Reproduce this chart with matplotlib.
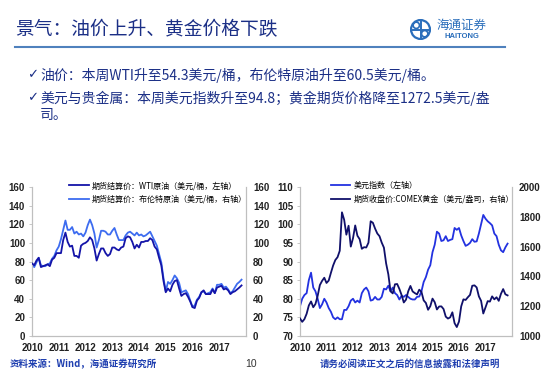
import numpy as np
import pandas as pd
import matplotlib
matplotlib.use("Agg")
import matplotlib.pyplot as plt
from matplotlib.patches import Circle

plt.rcParams['font.family'] = ['Noto Sans CJK SC', 'DejaVu Sans']

# monthly values, Jan 2010 .. Nov 2017
wti = [78, 76, 81, 84, 74, 75, 76, 77, 75, 82, 84, 89,
       89, 89, 103, 111, 101, 96, 97, 86, 86, 84, 97, 99,
       100, 102, 106, 103, 94, 81, 88, 94, 94, 89, 86, 88,
       95, 95, 93, 92, 95, 96, 105, 107, 106, 101, 94, 98,
       95, 101, 101, 102, 102, 105, 103, 96, 93, 84, 76, 59,
       47, 51, 48, 55, 59, 60, 51, 43, 45, 46, 42, 37,
       31, 30, 38, 41, 47, 49, 45, 45, 45, 50, 46, 52,
       53, 54, 50, 51, 49, 45, 47, 48, 50, 52, 54.3]
brent = [77, 74, 79, 84, 76, 75, 75, 77, 78, 83, 86, 92,
         96, 104, 114, 124, 114, 114, 117, 110, 112, 109, 110, 107,
         111, 119, 125, 119, 110, 95, 103, 113, 113, 112, 109, 109,
         113, 116, 109, 103, 103, 103, 108, 111, 112, 110, 108, 111,
         108, 109, 107, 108, 110, 112, 107, 102, 97, 88, 79, 62,
         48, 58, 56, 60, 65, 62, 57, 47, 48, 49, 45, 38,
         31, 33, 39, 42, 47, 48, 45, 46, 47, 51, 46, 55,
         55, 56, 52, 53, 50, 46, 48, 52, 56, 58, 60.5]
usd_index = [78, 80, 81, 81.5, 85, 87, 83, 82, 80, 77.5, 78.5, 80,
             79, 77.5, 76.5, 75, 74.5, 75, 74.5, 74.5, 77, 77, 78, 79.5,
             80, 79, 79.5, 79, 81.5, 82.5, 83, 82, 79.5, 79.7, 80.5, 79.8,
             79.8, 80.5, 82.7, 82.5, 83.5, 82, 83, 81.5, 81, 79.8, 80.8, 80.5,
             81, 80.5, 80, 79.8, 79.8, 80.5, 80.6, 82, 84.5, 85.8, 87.8, 89,
             92.5, 94.5, 98, 97.5, 95.5, 95.7, 96.8, 95.5, 95.8, 96, 99, 98.5,
             99, 97, 95.5, 94.2, 94.5, 95, 96, 95.3, 95.4, 97.5, 100, 102.5,
             101.5, 100.8, 100.3, 99.7, 97.5, 96.8, 94.5, 93, 92.5, 93.8, 94.8]
gold = [1118, 1095, 1113, 1149, 1205, 1232, 1193, 1215, 1270, 1342, 1370, 1391,
        1356, 1372, 1424, 1473, 1510, 1529, 1572, 1830, 1780, 1680, 1740, 1600,
        1656, 1742, 1673, 1650, 1585, 1596, 1594, 1626, 1770, 1760, 1721, 1688,
        1670, 1627, 1593, 1487, 1414, 1300, 1286, 1347, 1349, 1316, 1275, 1225,
        1244, 1300, 1336, 1299, 1288, 1279, 1311, 1296, 1239, 1222, 1176, 1200,
        1251, 1227, 1178, 1198, 1199, 1181, 1130, 1117, 1125, 1159, 1086, 1060,
        1097, 1199, 1246, 1242, 1260, 1276, 1337, 1340, 1326, 1266, 1236, 1151,
        1192, 1234, 1231, 1266, 1246, 1260, 1236, 1283, 1315, 1280, 1272.5]

years = [2010, 2011, 2012, 2013, 2014, 2015, 2016, 2017]
dates = pd.date_range("2010-01-01", periods=len(wti), freq="MS")
t = dates.year + (dates.month - 1) / 12.0

title_color = "#1b2f86"
text_color = "#1b2f86"
spine_color = "#bfbfbf"
tick_font = "Liberation Sans"

fig = plt.figure(figsize=(5.5, 3.79), dpi=100)
fig.patch.set_facecolor("white")

# header
fig.text(15 / 550, 1 - 30 / 379, "景气：油价上升、黄金价格下跌", fontsize=13.5,
         color=title_color, va="center", ha="left")
fig.add_artist(plt.Line2D([15 / 550, 505 / 550], [1 - 47 / 379, 1 - 47 / 379],
                          color="#4f81bd", lw=1.5))
# logo
logo_ax = fig.add_axes([410 / 550, 1 - 40 / 379, 21 / 550, 21 / 379])
logo_ax.set_xlim(-1, 1)
logo_ax.set_ylim(-1, 1)
logo_ax.axis("off")
logo_ax.add_patch(Circle((0, 0), 0.9, fill=False, ec="#2a6ebb", lw=1.6))
logo_ax.plot([-0.9, 0.9], [0, 0], color="#2a6ebb", lw=1.4)
logo_ax.plot([0, 0], [-0.9, 0.9], color="#2a6ebb", lw=1.4)
logo_ax.add_patch(Circle((-0.4, 0.4), 0.3, fill=False, ec="#2a6ebb", lw=1.2))
logo_ax.add_patch(Circle((0.4, -0.4), 0.3, fill=False, ec="#2a6ebb", lw=1.2))
fig.text(462 / 550, 1 - 25 / 379, "海通证券", fontsize=9, color="#2a6ebb",
         ha="center", va="center", style="italic")
fig.text(462 / 550, 1 - 37 / 379, "HAITONG", fontsize=5.5, color="#2a6ebb",
         ha="center", va="center", fontweight="bold", family=tick_font)

# bullets
bullets = [(75, "油价：本周WTI升至54.3美元/桶，布伦特原油升至60.5美元/桶。"),
           (98, "美元与贵金属：本周美元指数升至94.8；黄金期货价格降至1272.5美元/盎"),
           (115, "司。")]
for k, (yy, txt) in enumerate(bullets):
    if k < 2:
        fig.text(27 / 550, 1 - yy / 379, "✓", fontsize=9.5, color=text_color,
                 va="center", family=["DejaVu Sans"])
    fig.text(40 / 550, 1 - yy / 379, txt, fontsize=10, color=text_color,
             va="center", ha="left")


def style_axes(ax, ax2):
    for a in (ax, ax2):
        for s in a.spines.values():
            s.set_color(spine_color)
            s.set_linewidth(0.8)
        a.spines["top"].set_visible(False)
        a.tick_params(labelsize=7, colors="#222222", length=2, width=0.6,
                      color=spine_color, pad=3)
        for lab in a.get_yticklabels():
            lab.set_fontweight("bold")
            lab.set_family(tick_font)
    ax.tick_params(axis="x", length=0, pad=5)
    ax.set_xlim(2010, 2018)
    ax.set_xticks(years)
    ax.set_xticklabels([str(y) for y in years], fontweight="bold",
                       family=tick_font, fontsize=7)
    ax2.tick_params(axis="y", length=0, pad=5)


# left chart: oil
ax1 = fig.add_axes([32 / 550, 1 - 336 / 379, 214 / 550, 149 / 379])
ax1b = ax1.twinx()
l1, = ax1.plot(t, wti, color="#1414a8", lw=1.3, zorder=3)
l2, = ax1b.plot(t, brent, color="#3d6cf0", lw=1.3, zorder=2)
ax1.set_zorder(ax1b.get_zorder() + 1)
ax1.patch.set_visible(False)
ax1.set_ylim(0, 160)
ax1b.set_ylim(0, 160)
ax1.set_yticks(range(0, 161, 20))
ax1b.set_yticks(range(0, 161, 20))
style_axes(ax1, ax1b)
ax1.legend([l1, l2], ["期货结算价：WTI原油（美元/桶，左轴）",
                      "期货结算价：布伦特原油（美元/桶，右轴）"],
           loc="upper left", bbox_to_anchor=(0.16, 1.06), frameon=False,
           fontsize=5.8, handlelength=2.4, labelspacing=0.55,
           handletextpad=0.4, borderaxespad=0)

# right chart: usd and gold
ax2 = fig.add_axes([300 / 550, 1 - 336 / 379, 212 / 550, 149 / 379])
ax2b = ax2.twinx()
l3, = ax2.plot(t, usd_index, color="#2332e0", lw=1.3, zorder=2)
l4, = ax2b.plot(t, gold, color="#10106a", lw=1.3, zorder=3)
ax2.set_ylim(70, 110)
ax2b.set_ylim(1000, 2000)
ax2.set_yticks(range(70, 111, 5))
ax2b.set_yticks(range(1000, 2001, 200))
style_axes(ax2, ax2b)
ax2.legend([l3, l4], ["美元指数（左轴）",
                      "期货收盘价:COMEX黄金（美元/盎司，右轴）"],
           loc="upper left", bbox_to_anchor=(0.13, 1.06), frameon=False,
           fontsize=5.8, handlelength=2.4, labelspacing=0.55,
           handletextpad=0.4, borderaxespad=0)

# footer
fig.text(10 / 550, 1 - 364 / 379, "资料来源：Wind，海通证券研究所", fontsize=6.8,
         color="#1f3fb0", va="center", fontweight="bold")
fig.text(245 / 550, 1 - 364 / 379, "10", fontsize=7.5, color="#333333",
         va="center", family=tick_font)
fig.text(500 / 550, 1 - 364 / 379, "请务必阅读正文之后的信息披露和法律声明",
         fontsize=6.8, color="#1f3fb0", va="center", ha="right",
         fontweight="bold")

fig.savefig("out.png", dpi=100)
